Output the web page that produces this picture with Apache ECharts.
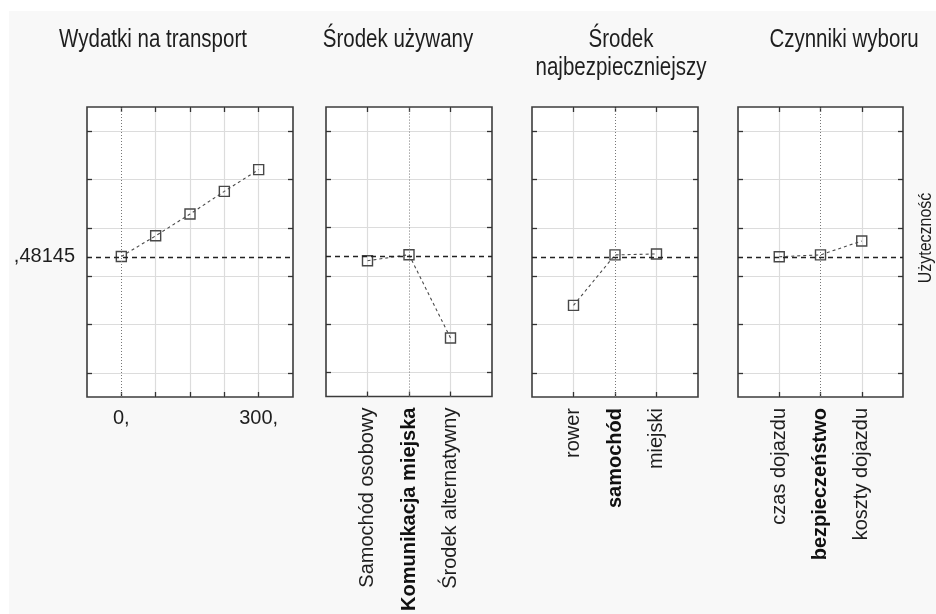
<!DOCTYPE html>
<html>
<head>
<meta charset="utf-8">
<script src="https://cdn.jsdelivr.net/npm/echarts@6/dist/echarts.min.js"></script>
<style>
html,body{margin:0;padding:0;background:#ffffff;}
#chart{width:936px;height:614px;}
</style>
</head>
<body>
<div id="chart"></div>
<script>
// ---------- data ----------
const refValue = 0.48145;
const refLabel = ',48145';
const yGridValues = [0, 0.2, 0.4, 0.6, 0.8, 1.0];
const yAxisTitle = 'Użyteczność';

const expenseTitle = ['Wydatki na transport'];
const expenseLevels = [0, 75, 150, 225, 300];
const expenseUtility = [0.4815, 0.567, 0.657, 0.751, 0.841];
const expenseTickLabels = ['0,', '', '', '', '300,'];

const meansTitle = ['Środek używany'];
const meansCategories = ['Samochód osobowy', 'Komunikacja miejska', 'Środek alternatywny'];
const meansUtility = [0.463, 0.488, 0.143];

const safestTitle = ['Środek', 'najbezpieczniejszy'];
const safestCategories = ['rower', 'samochód', 'miejski'];
const safestUtility = [0.279, 0.488, 0.492];

const factorTitle = ['Czynniki wyboru'];
const factorCategories = ['czas dojazdu', 'bezpieczeństwo', 'koszty dojazdu'];
const factorUtility = [0.4805, 0.488, 0.5455];

const baseLevelIndex = 1; // reference (bold) level of each categorical factor

// ---------- layout / style ----------
const SANS = "'Liberation Sans', Arial, sans-serif";
const GRID_TOP = 107, GRID_H = 290;
const Y_MIN = -0.1, Y_MAX = 1.1;
const GRID_COLOR = '#dcdcdc';
const FRAME_COLOR = '#3c3c3c';

function catPositions(cats) { return cats.map((c, i) => i + 1); }

const panels = [
  { title: expenseTitle, titleX: 153, left: 87, width: 206,
    xMin: -75, xMax: 375, interval: 75,
    xs: expenseLevels, ys: expenseUtility, refX: expenseLevels[0],
    labels: expenseTickLabels, rotate: 0, bold: -1 },
  { title: meansTitle, titleX: 398, left: 326, width: 166,
    xMin: 0, xMax: 4, interval: 1,
    xs: catPositions(meansCategories), ys: meansUtility, refX: baseLevelIndex + 1,
    labels: meansCategories, rotate: 90, bold: baseLevelIndex },
  { title: safestTitle, titleX: 621, left: 532, width: 166,
    xMin: 0, xMax: 4, interval: 1,
    xs: catPositions(safestCategories), ys: safestUtility, refX: baseLevelIndex + 1,
    labels: safestCategories, rotate: 90, bold: baseLevelIndex },
  { title: factorTitle, titleX: 844, left: 738, width: 165,
    xMin: 0, xMax: 4, interval: 1,
    xs: catPositions(factorCategories), ys: factorUtility, refX: baseLevelIndex + 1,
    labels: factorCategories, rotate: 90, bold: baseLevelIndex }
];

const grids = [], xAxes = [], yAxes = [], series = [];
const graphics = [
  { type: 'rect', shape: { x: 9, y: 11, width: 936, height: 614 }, style: { fill: '#f8f8f8' }, z: -100, silent: true }
];

const tickStyle = { color: '#333', width: 1.3 };
const hiddenLine = { show: false, onZero: false };

panels.forEach((p, i) => {
  grids.push({ left: p.left, top: GRID_TOP, width: p.width, height: GRID_H,
    show: true, backgroundColor: '#ffffff', borderColor: FRAME_COLOR, borderWidth: 1.6, containLabel: false });

  const labelCfg = p.rotate === 0 ? {
      customValues: p.xs,
      formatter: v => { const k = p.xs.indexOf(v); return k < 0 ? '' : p.labels[k]; },
      fontFamily: SANS, fontSize: 20, color: '#1e1e1e', margin: 11
    } : {
      customValues: p.xs, rotate: 90, margin: 11,
      formatter: v => { const k = p.xs.indexOf(v); if (k < 0) return ''; return k === p.bold ? '{b|' + p.labels[k] + '}' : p.labels[k]; },
      fontFamily: SANS, fontSize: 20, color: '#1e1e1e',
      rich: { b: { fontFamily: SANS, fontSize: 20, fontWeight: 'bold', color: '#111' } }
    };

  xAxes.push({ type: 'value', gridIndex: i, position: 'bottom', min: p.xMin, max: p.xMax, interval: p.interval,
    axisLine: hiddenLine,
    axisTick: { show: true, inside: true, length: 5, customValues: p.xs, lineStyle: tickStyle },
    splitLine: { show: true, showMinLine: true, showMaxLine: true,
      lineStyle: { width: 1.2, color: p.xs.map(v => v === p.refX ? 'rgba(0,0,0,0)' : GRID_COLOR) } },
    axisLabel: labelCfg });
  xAxes.push({ type: 'value', gridIndex: i, position: 'top', min: p.xMin, max: p.xMax, interval: p.interval,
    axisLine: hiddenLine,
    axisTick: { show: true, inside: true, length: 5, customValues: p.xs, lineStyle: tickStyle },
    splitLine: { show: false }, axisLabel: { show: false } });

  yAxes.push({ type: 'value', gridIndex: i, position: 'left', min: Y_MIN, max: Y_MAX,
    axisLine: hiddenLine,
    axisTick: { show: true, inside: true, length: 5, customValues: yGridValues, lineStyle: tickStyle },
    splitLine: { show: true, lineStyle: { color: GRID_COLOR, width: 1.2 } },
    axisLabel: i === 0 ? { customValues: [refValue], formatter: () => refLabel,
      fontFamily: SANS, fontSize: 20, color: '#1e1e1e', margin: 12 } : { show: false } });
  yAxes.push({ type: 'value', gridIndex: i, position: 'right', min: Y_MIN, max: Y_MAX,
    axisLine: hiddenLine,
    axisTick: { show: true, inside: true, length: 5, customValues: yGridValues, lineStyle: tickStyle },
    splitLine: { show: false }, axisLabel: { show: false } });

  series.push({
    type: 'line', xAxisIndex: 2 * i, yAxisIndex: 2 * i,
    data: p.xs.map((x, k) => [x, p.ys[k]]),
    symbol: 'rect', symbolSize: 10,
    itemStyle: { color: 'rgba(255,255,255,0)', borderColor: '#484848', borderWidth: 1.4 },
    lineStyle: { color: '#4a4a4a', width: 1.1, type: [3, 3] },
    emphasis: { disabled: true },
    markLine: {
      silent: true, symbol: ['none', 'none'], label: { show: false }, animation: false,
      data: [
        { xAxis: p.refX, lineStyle: { type: [1, 2], color: '#777', width: 1 } },
        { yAxis: refValue, lineStyle: { type: [5, 4], color: '#222', width: 1.4 } }
      ]
    }
  });

  p.title.forEach((line, j) => {
    graphics.push({ type: 'text', x: p.titleX, y: 40 + j * 28, scaleX: 0.82, silent: true,
      style: { text: line, fontFamily: SANS, fontSize: 25, fill: '#1e1e1e', align: 'center', verticalAlign: 'middle' } });
  });
});

graphics.push({ type: 'text', x: 926, y: 238, rotation: Math.PI / 2, scaleX: 0.84, silent: true,
  style: { text: yAxisTitle, fontFamily: SANS, fontSize: 19, fill: '#1e1e1e', align: 'center', verticalAlign: 'middle' } });

const chart = echarts.init(document.getElementById('chart'), null, { renderer: 'canvas' });
chart.setOption({
  animation: false,
  backgroundColor: '#ffffff',
  grid: grids, xAxis: xAxes, yAxis: yAxes, series: series, graphic: graphics
});
</script>
</body>
</html>
